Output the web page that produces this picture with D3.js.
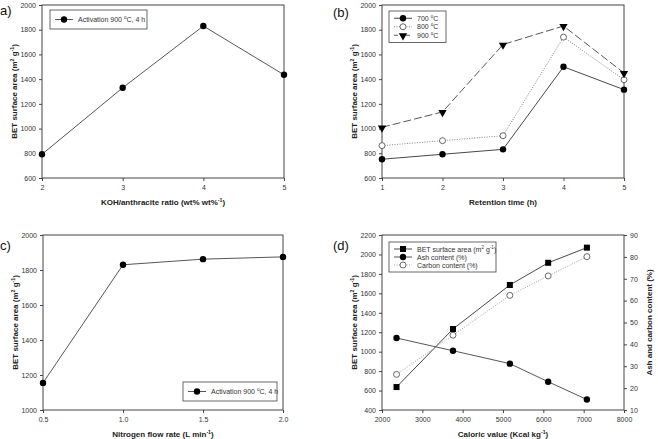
<!DOCTYPE html>
<html>
<head>
<meta charset="utf-8">
<script src="https://cdn.jsdelivr.net/npm/d3@7"></script>
<style>
  body { margin: 0; background: #fff; }
  svg { font-family: "Liberation Sans", Arial, sans-serif; }
  .tick text { font-size: 7px; fill: #333; }
  .axis path, .axis line { stroke: #444; }
</style>
</head>
<body>
<svg id="chart" width="658" height="439"></svg>
<script>
// panel a - KOH ratio
const kohRatio = [2, 3, 4, 5];
const betKoh = [792, 1330, 1830, 1435];

// panel b - retention time
const retention = [1, 2, 3, 4, 5];
const bet700 = [752, 792, 832, 1500, 1315];
const bet800 = [862, 902, 942, 1740, 1395];
const bet900 = [1010, 1135, 1680, 1830, 1450];

// panel c - nitrogen flow
const flowRate = [0.5, 1.0, 1.5, 2.0];
const betFlow = [1155, 1830, 1862, 1875];

// panel d - caloric value
const caloric = [2360, 3760, 5170, 6120, 7080];
const betCal = [636, 1233, 1686, 1914, 2070];
const ashContent = [42.9, 37.1, 31.2, 22.9, 14.8];
const carbonContent = [26.3, 44.2, 62.4, 71.3, 80.1];

const svg = d3.select("#chart");
const betTitle = "BET surface area (m^{2} g^{-1})";

// text with ^{..} superscripts
function richText(t, str, size) {
    const parts = str.split(/(\^\{[^}]*\})/);
    let up = false;
    parts.forEach(function(p) {
        if (!p) return;
        if (p.startsWith("^{")) {
            t.append("tspan").attr("font-size", size * 0.65).attr("dy", -size * 0.4).text(p.slice(2, -1));
            up = true;
        } else {
            t.append("tspan").attr("dy", up ? size * 0.4 : null).text(p);
            up = false;
        }
    });
    return t;
}

function symbol(g, type, x, y) {
    if (type === "circle") {
        g.append("circle").attr("cx", x).attr("cy", y).attr("r", 3.2).attr("fill", "#000");
    } else if (type === "open") {
        g.append("circle").attr("cx", x).attr("cy", y).attr("r", 3)
            .attr("fill", "#fff").attr("stroke", "#444").attr("stroke-width", 0.8);
    } else if (type === "square") {
        g.append("rect").attr("x", x - 3).attr("y", y - 3).attr("width", 6).attr("height", 6).attr("fill", "#000");
    } else if (type === "tri") {
        g.append("path").attr("d", d3.symbol().type(d3.symbolTriangle).size(30)())
            .attr("transform", "translate(" + x + "," + (y + 0.5) + ") rotate(180)").attr("fill", "#000");
    }
}

function panel(opt) {
    const g = svg.append("g");
    const x = d3.scaleLinear().domain(opt.xDomain).range([opt.left, opt.right]);
    const y = d3.scaleLinear().domain(opt.yDomain).range([opt.bottom, opt.top]);

    // frame
    g.append("rect").attr("x", opt.left).attr("y", opt.top)
        .attr("width", opt.right - opt.left).attr("height", opt.bottom - opt.top)
        .attr("fill", "none").attr("stroke", "#444").attr("stroke-width", 1);

    g.append("g").attr("class", "axis")
        .attr("transform", "translate(0," + opt.bottom + ")")
        .call(d3.axisBottom(x).tickValues(opt.xTicks).tickSize(3).tickPadding(4).tickFormat(opt.xFormat || d3.format("d")))
        .call(a => a.select(".domain").remove());
    g.append("g").attr("class", "axis")
        .attr("transform", "translate(" + opt.left + ",0)")
        .call(d3.axisLeft(y).tickValues(opt.yTicks).tickSize(3).tickPadding(3).tickFormat(d3.format("d")))
        .call(a => a.select(".domain").remove());

    richText(g.append("text").attr("x", (opt.left + opt.right) / 2).attr("y", opt.bottom + 27)
        .attr("text-anchor", "middle").attr("font-size", 8).attr("font-weight", "bold").attr("fill", "#222"),
        opt.xTitle, 8);
    richText(g.append("text").attr("transform", "translate(" + (opt.left - 25) + "," + ((opt.top + opt.bottom) / 2) + ") rotate(-90)")
        .attr("text-anchor", "middle").attr("font-size", 8).attr("font-weight", "bold").attr("fill", "#222"),
        betTitle, 8);
    g.append("text").attr("x", opt.labelX).attr("y", opt.labelY)
        .attr("font-size", 13).attr("fill", "#111").text(opt.label);

    opt.series.forEach(function(s) {
        const sy = s.scale ? s.scale : y;
        const line = d3.line().x((d, i) => x(opt.xs[i])).y(d => sy(d));
        g.append("path").datum(s.values).attr("d", line).attr("fill", "none")
            .attr("stroke", s.color).attr("stroke-width", 0.9)
            .attr("stroke-dasharray", s.dash || null);
        s.values.forEach((v, i) => symbol(g, s.marker, x(opt.xs[i]), sy(v)));
    });
    return { g: g, x: x, y: y };
}

function legend(g, x0, y0, w, items, rowH) {
    g.append("rect").attr("x", x0).attr("y", y0).attr("width", w)
        .attr("height", items.length * rowH + 6)
        .attr("fill", "#fff").attr("stroke", "#444").attr("stroke-width", 0.8);
    items.forEach(function(it, i) {
        const yy = y0 + 3 + rowH * (i + 0.5);
        g.append("line").attr("x1", x0 + 5).attr("x2", x0 + 23).attr("y1", yy).attr("y2", yy)
            .attr("stroke", it.color).attr("stroke-width", 0.9).attr("stroke-dasharray", it.dash || null);
        symbol(g, it.marker, x0 + 14, yy);
        richText(g.append("text").attr("x", x0 + 28).attr("y", yy + 2.5).attr("font-size", 7).attr("fill", "#333"),
            it.text, 7);
    });
}

// (a)
const pa = panel({
    left: 42, right: 284, top: 5, bottom: 178,
    xDomain: [2, 5], yDomain: [600, 2000],
    xTicks: kohRatio, yTicks: d3.range(600, 2001, 200),
    xs: kohRatio, xTitle: "KOH/anthracite ratio (wt% wt%^{-1})",
    label: "a)", labelX: 0, labelY: 15,
    series: [{ values: betKoh, color: "#444", marker: "circle" }]
});
legend(pa.g, 50, 10, 97, [{ text: "Activation 900 ^{o}C, 4 h", color: "#444", marker: "circle" }], 13);

// (b)
const pb = panel({
    left: 382, right: 624, top: 5, bottom: 178,
    xDomain: [1, 5], yDomain: [600, 2000],
    xTicks: retention, yTicks: d3.range(600, 2001, 200),
    xs: retention, xTitle: "Retention time (h)",
    label: "(b)", labelX: 333, labelY: 17,
    series: [
        { values: bet700, color: "#333", marker: "circle" },
        { values: bet800, color: "#777", marker: "open", dash: "1,1.5" },
        { values: bet900, color: "#444", marker: "tri", dash: "8,3" }
    ]
});
legend(pb.g, 389, 11, 57, [
    { text: "700 ^{o}C", color: "#333", marker: "circle" },
    { text: "800 ^{o}C", color: "#777", marker: "open", dash: "1,1.5" },
    { text: "900 ^{o}C", color: "#444", marker: "tri", dash: "4,2" }
], 8.5);

// (c)
const pc = panel({
    left: 43, right: 283, top: 235, bottom: 410,
    xDomain: [0.5, 2.0], yDomain: [1000, 2000],
    xTicks: flowRate, yTicks: d3.range(1000, 2001, 200), xFormat: d3.format(".1f"),
    xs: flowRate, xTitle: "Nitrogen flow rate (L min^{-1})",
    label: "c)", labelX: 0, labelY: 250,
    series: [{ values: betFlow, color: "#444", marker: "circle" }]
});
legend(pc.g, 183, 382, 94, [{ text: "Activation 900 ^{o}C, 4 h", color: "#444", marker: "circle" }], 13);

// (d)
const yRight = d3.scaleLinear().domain([10, 90]).range([410, 235]);
const pd = panel({
    left: 382, right: 624, top: 235, bottom: 410,
    xDomain: [2000, 8000], yDomain: [400, 2200],
    xTicks: d3.range(2000, 8001, 1000), yTicks: d3.range(400, 2201, 200),
    xs: caloric, xTitle: "Caloric value (Kcal kg^{-1})",
    label: "(d)", labelX: 333, labelY: 250,
    series: [
        { values: betCal, color: "#333", marker: "square" },
        { values: ashContent, color: "#444", marker: "circle", scale: yRight },
        { values: carbonContent, color: "#999", marker: "open", dash: "1,1.5", scale: yRight }
    ]
});
pd.g.append("g").attr("class", "axis")
    .attr("transform", "translate(624,0)")
    .call(d3.axisRight(yRight).tickValues(d3.range(10, 91, 10)).tickSize(3).tickPadding(3))
    .call(a => a.select(".domain").remove());
pd.g.append("text").attr("transform", "translate(652,322.5) rotate(-90)")
    .attr("text-anchor", "middle").attr("font-size", 8).attr("font-weight", "bold").attr("fill", "#222")
    .text("Ash and carbon content (%)");
legend(pd.g, 389, 242, 107, [
    { text: "BET surface area (m^{2} g^{-1})", color: "#333", marker: "square" },
    { text: "Ash content (%)", color: "#444", marker: "circle" },
    { text: "Carbon content (%)", color: "#999", marker: "open", dash: "1,1.5" }
], 8);
</script>
</body>
</html>
